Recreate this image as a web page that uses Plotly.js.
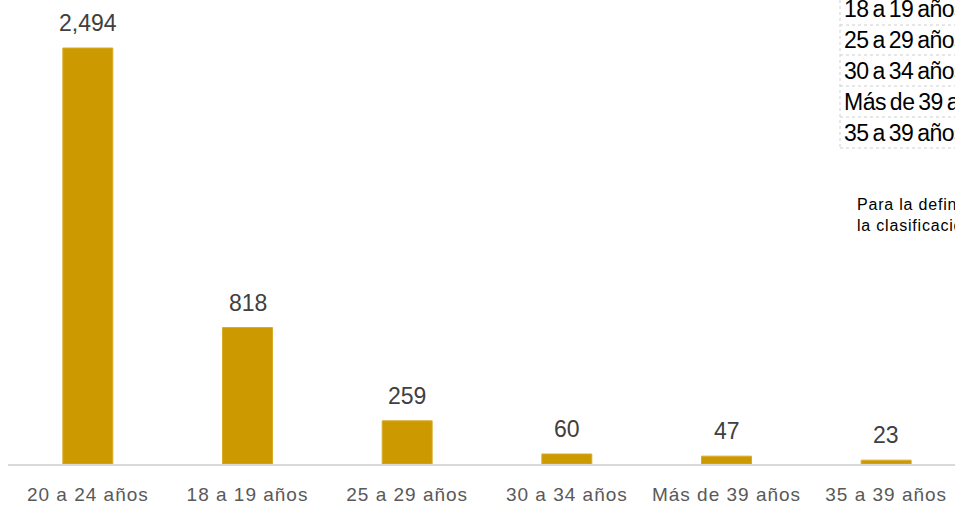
<!DOCTYPE html>
<html>
<head>
<meta charset="utf-8">
<script src="https://cdn.plot.ly/plotly-3.0.1.min.js"></script>
<style>
html,body{margin:0;padding:0;overflow:hidden;background:#fff;width:955px;height:506px;}
#chart{width:966px;height:506px;}
.xtick text{letter-spacing:1px;}
</style>
</head>
<body>
<div id="chart"></div>
<script>
const categories = ["20 a 24 años", "18 a 19 años", "25 a 29 años", "30 a 34 años", "Más de 39 años", "35 a 39 años"];
const values = [2494, 818, 259, 60, 47, 23];
const tableRows = categories.slice(1);
const noteLines = ["Para la definición", "la clasificación"];

const W = 966, H = 506, ML = 8, MR = 0, MT = 0, MB = 42;
const PW = W - ML - MR, PH = H - MT - MB;
const px = x => (x - ML) / PW;
const py = y => 1 - (y - MT) / PH;

const shapes = [];
const annotations = [];
const css = [];

// data labels above bars
categories.forEach((c, i) => {
  annotations.push({xref:'x', yref:'y', x:c, y:values[i], xanchor:'center', yanchor:'bottom', yshift:10,
    text:values[i].toLocaleString('en-US'), showarrow:false,
    font:{family:'Liberation Sans, Arial', size:23, color:'#404040'}});
});

// table
const rowLines = [-6, 25, 55, 86, 117, 148];
shapes.push({type:'rect', xref:'paper', yref:'paper', x0:px(840), x1:px(1000), y0:py(148), y1:py(-6),
  line:{color:'#cfcfcf', width:1, dash:'dot'}, fillcolor:'rgba(0,0,0,0)'});
for (let i = 1; i < rowLines.length - 1; i++) {
  shapes.push({type:'line', xref:'paper', yref:'paper', x0:px(840), x1:px(1000), y0:py(rowLines[i]), y1:py(rowLines[i]),
    line:{color:'#cfcfcf', width:1, dash:'dot'}});
}
tableRows.forEach((t, i) => {
  const c = (rowLines[i] + rowLines[i+1]) / 2;
  css.push('.annotation[data-index="' + annotations.length + '"] text{letter-spacing:-0.5px;word-spacing:-2px;}');
  annotations.push({xref:'paper', yref:'paper', x:px(842), y:py(c), xanchor:'left', yanchor:'middle', align:'left',
    text:t + '<br>', showarrow:false, font:{family:'Liberation Sans, Arial', size:23, color:'#000'}});
});
css.push('.annotation[data-index="' + annotations.length + '"] text{letter-spacing:0.8px;}');
annotations.push({xref:'paper', yref:'paper', x:px(855), y:py(215), xanchor:'left', yanchor:'middle', align:'left',
  text:noteLines.join('<br>'), showarrow:false, font:{family:'Liberation Sans, Arial', size:16, color:'#000'}});

const st = document.createElement('style');
st.textContent = css.join('\n');
document.head.appendChild(st);

const trace = {
  type:'bar', x:categories, y:values,
  marker:{color:'#cc9900', line:{color:'#d9ab2a', width:1}},
  hoverinfo:'none'
};

const layout = {
  width:W, height:H,
  margin:{l:ML, r:MR, t:MT, b:MB, pad:0},
  paper_bgcolor:'#fff', plot_bgcolor:'#fff',
  bargap:0.687,
  showlegend:false,
  xaxis:{type:'category', showline:true, linecolor:'#d9d9d9', linewidth:2, showgrid:false, zeroline:false,
    ticks:'', ticklabelstandoff:12,
    tickfont:{family:'Liberation Sans, Arial, sans-serif', size:19, color:'#595959'}},
  yaxis:{range:[0, 2782], visible:false, showgrid:false, zeroline:false},
  shapes:shapes, annotations:annotations
};
Plotly.newPlot('chart', [trace], layout, {displayModeBar:false, staticPlot:true});
</script>
</body>
</html>
